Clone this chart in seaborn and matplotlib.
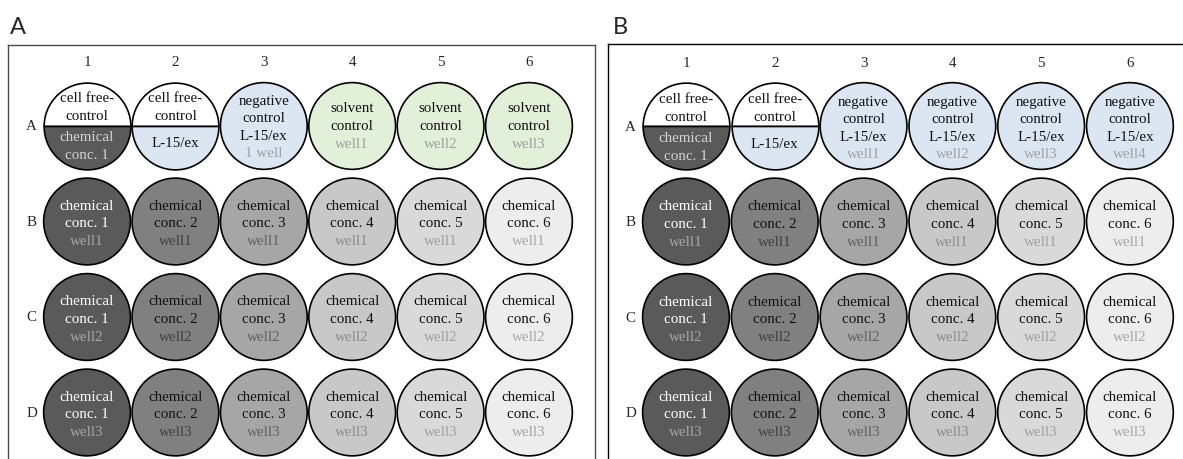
import matplotlib
matplotlib.use("Agg")
import matplotlib.pyplot as plt
import seaborn as sns
import pandas as pd

# plate layout data
row_labels = ["A", "B", "C", "D"]
col_labels = ["1", "2", "3", "4", "5", "6"]

conc_names = ["conc. 1", "conc. 2", "conc. 3", "conc. 4", "conc. 5", "conc. 6"]
conc_fill = ["#5a5a5a", "#808080", "#a6a6a6", "#c8c8c8", "#d9d9d9", "#ededed"]
conc_text = ["#ffffff", "#111111", "#111111", "#111111", "#111111", "#111111"]
conc_sub_text = ["#a6a6a6", "#404040", "#606060", "#8c8c8c", "#a0a0a0", "#a6a6a6"]
replicate_labels = ["well1", "well2", "well3"]

# row A, columns 1-2: half wells
half_upper = ["cell free-", "control"]
half_lower = [["chemical", "conc. 1"], ["L-15/ex"]]
half_lower_fill = ["#5a5a5a", "#dce6f2"]
half_lower_text = ["#d4d4d4", "#111111"]

# row A, columns 3-6
top_a_labels = [["negative", "control", "L-15/ex"], ["solvent", "control"],
                ["solvent", "control"], ["solvent", "control"]]
top_a_sub = ["1 well", "well1", "well2", "well3"]
top_a_fill = ["#dce6f2", "#e2efd9", "#e2efd9", "#e2efd9"]

top_b_labels = [["negative", "control", "L-15/ex"]] * 4
top_b_sub = ["well1", "well2", "well3", "well4"]
top_b_fill = ["#dce6f2"] * 4

SERIF = "Liberation Serif"
FS = 10.8
WELL_S = 3900          # marker area, points^2
EDGE = 1.2


def put_lines(ax, x, y, lines, colors, offsets_px):
    for line, col, off in zip(lines, colors, offsets_px):
        ax.annotate(line, (x, y), xytext=(0, -off * 0.72), textcoords="offset points",
                    ha="center", va="center", fontsize=FS, family=SERIF, color=col)


def draw_plate(ax, top_labels, top_sub, top_fill, xlim, ylim, border, hide):
    recs = []
    for i, fill in enumerate(top_fill):
        recs.append({"col": i + 3, "row": 0, "fill": fill})
    for r in range(1, 4):
        for c in range(6):
            recs.append({"col": c + 1, "row": r, "fill": conc_fill[c]})
    df = pd.DataFrame(recs)
    pal = {f: f for f in df["fill"].unique()}
    sns.scatterplot(data=df, x="col", y="row", hue="fill", palette=pal, s=WELL_S,
                    edgecolor="black", linewidth=EDGE, legend=False, ax=ax, zorder=2)

    # split wells
    for i in range(2):
        ax.plot([i + 1], [0], marker="o", fillstyle="top", markerfacecolor="white",
                markerfacecoloralt=half_lower_fill[i], markeredgecolor="black",
                markersize=WELL_S ** 0.5, markeredgewidth=EDGE, zorder=2)
        put_lines(ax, i + 1, 0, half_upper, ["#111111"] * 2, [-28, -10])
        offs = [11, 29] if len(half_lower[i]) == 2 else [17]
        put_lines(ax, i + 1, 0, half_lower[i], [half_lower_text[i]] * len(offs), offs)

    # row A columns 3-6
    for i, (lab, sub) in enumerate(zip(top_labels, top_sub)):
        lines = lab + [sub]
        cols = ["#111111"] * len(lab) + ["#a0a0a0"]
        offs = [-25, -8, 10, 27] if len(lines) == 4 else [-18, 0, 18]
        put_lines(ax, i + 3, 0, lines, cols, offs)

    # chemical rows
    for r in range(1, 4):
        for c in range(6):
            put_lines(ax, c + 1, r, ["chemical", conc_names[c], replicate_labels[r - 1]],
                      [conc_text[c], conc_text[c], conc_sub_text[c]], [-16, 1.5, 19.5])

    for c, lab in enumerate(col_labels):
        ax.text(c + 1, -0.67, lab, ha="center", va="center", fontsize=FS, family=SERIF)
    for r, lab in enumerate(row_labels):
        ax.text(0.375, r, lab, ha="center", va="center", fontsize=FS, family=SERIF)

    ax.set_xlim(*xlim)
    ax.set_ylim(*ylim)
    ax.set_xticks([])
    ax.set_yticks([])
    ax.set_xlabel("")
    ax.set_ylabel("")
    for name, sp in ax.spines.items():
        sp.set_color(border)
        sp.set_linewidth(1.0)
        sp.set_visible(name not in hide)


sns.set_theme(style="white")
plt.rcParams["font.family"] = ["Liberation Serif", "DejaVu Sans"]

W, H = 1183, 460
fig = plt.figure(figsize=(W / 100, H / 100), dpi=100)
ax_a = fig.add_axes([8 / W, 0, (595 - 8) / W, (H - 46) / H])
ax_b = fig.add_axes([608 / W, 0, (W - 608 + 2) / W, (H - 45) / H])
ax_a.patch.set_alpha(0)
ax_b.patch.set_alpha(0)

draw_plate(ax_a, top_a_labels, top_a_sub, top_a_fill,
           (0.106, 6.747), (3.487, -0.848), "#4d4d4d", ["bottom"])
draw_plate(ax_b, top_b_labels, top_b_sub, top_b_fill,
           (0.122, 6.62), (3.487, -0.859), "black", ["bottom", "right"])

fig.text(10 / W, 1 - 27 / H, "A", ha="left", va="center", fontsize=17, family="Lato")
fig.text(613 / W, 1 - 27 / H, "B", ha="left", va="center", fontsize=17, family="Lato")

fig.savefig("out.png", dpi=100)
